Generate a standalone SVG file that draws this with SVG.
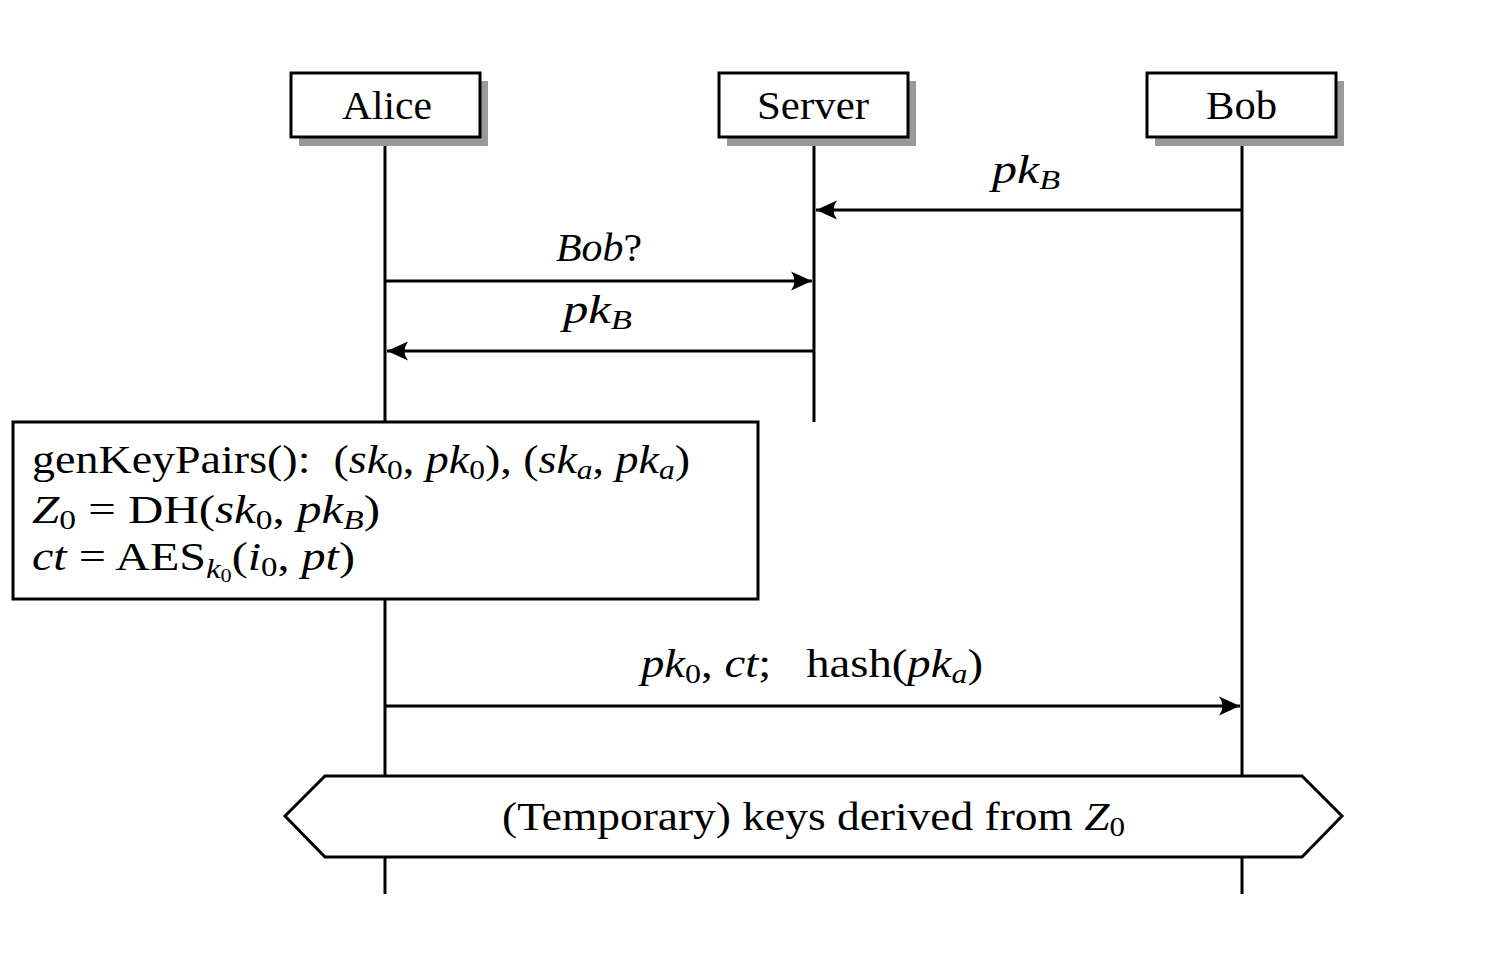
<svg xmlns="http://www.w3.org/2000/svg" width="1490" height="954" viewBox="0 0 1490 954">
<style>
text{font-family:"Liberation Serif","DejaVu Serif",serif;font-size:41px;fill:#000}
.i{font-style:italic}
.s{font-size:28px}
.box{fill:#fff;stroke:#000;stroke-width:3}
.sh{fill:#999}
.ll{stroke:#000;stroke-width:3;fill:none}
.msg{stroke:#000;stroke-width:3;fill:none;marker-end:url(#ah)}
</style>
<defs>
<marker id="ah" markerUnits="userSpaceOnUse" markerWidth="26" markerHeight="24" viewBox="-22 -12 26 24" refX="0" refY="0" orient="auto">
<path d="M0,0 L-21,-9.5 Q-14,0 -21,9.5 Z" fill="#000"/>
</marker>
</defs>
<rect width="1490" height="954" fill="#fff"/>
<g id="lifelines">
<line class="ll" x1="385" y1="137" x2="385" y2="894"/>
<line class="ll" x1="814" y1="137" x2="814" y2="422"/>
<line class="ll" x1="1242" y1="137" x2="1242" y2="894"/>
</g>
<g id="alice">
<rect class="sh" x="299" y="81" width="189" height="65"/>
<rect class="box" x="291" y="73" width="189" height="64"/>
<text x="387" y="119" text-anchor="middle" textLength="90" lengthAdjust="spacingAndGlyphs">Alice</text>
</g>
<g id="server">
<rect class="sh" x="727" y="81" width="189" height="65"/>
<rect class="box" x="719" y="73" width="189" height="64"/>
<text x="813" y="119" text-anchor="middle" textLength="112" lengthAdjust="spacingAndGlyphs">Server</text>
</g>
<g id="bob">
<rect class="sh" x="1155" y="81" width="189" height="65"/>
<rect class="box" x="1147" y="73" width="189" height="64"/>
<text x="1241.5" y="119" text-anchor="middle" textLength="71" lengthAdjust="spacingAndGlyphs">Bob</text>
</g>
<g id="connectors">
<line class="msg" x1="1242" y1="210" x2="816" y2="210"/>
<line class="msg" x1="385" y1="281" x2="812" y2="281"/>
<line class="msg" x1="814" y1="351" x2="387" y2="351"/>
<line class="msg" x1="385" y1="706" x2="1240" y2="706"/>
<text x="1026" y="183" text-anchor="middle" textLength="68" lengthAdjust="spacingAndGlyphs"><tspan class="i">pk</tspan><tspan class="i s" dy="6">B</tspan></text>
<text x="599" y="261" text-anchor="middle" class="i" textLength="86" lengthAdjust="spacingAndGlyphs">Bob<tspan font-style="normal">?</tspan></text>
<text x="597.5" y="323" text-anchor="middle" textLength="69" lengthAdjust="spacingAndGlyphs"><tspan class="i">pk</tspan><tspan class="i s" dy="6">B</tspan></text>
<text x="812" y="677" text-anchor="middle" textLength="342" lengthAdjust="spacingAndGlyphs"><tspan class="i">pk</tspan><tspan class="s" dy="6">0</tspan><tspan dy="-6">, </tspan><tspan class="i">ct</tspan>;&#160;&#160;&#160;hash(<tspan class="i">pk</tspan><tspan class="i s" dy="6">a</tspan><tspan dy="-6">)</tspan></text>
</g>
<g id="computation">
<rect class="box" x="13" y="422" width="745" height="177"/>
<text x="32" y="473" textLength="658" lengthAdjust="spacingAndGlyphs">genKeyPairs():&#160; (<tspan class="i">sk</tspan><tspan class="s" dy="6">0</tspan><tspan dy="-6">, </tspan><tspan class="i">pk</tspan><tspan class="s" dy="6">0</tspan><tspan dy="-6">), (</tspan><tspan class="i">sk</tspan><tspan class="i s" dy="6">a</tspan><tspan dy="-6">, </tspan><tspan class="i">pk</tspan><tspan class="i s" dy="6">a</tspan><tspan dy="-6">)</tspan></text>
<text x="32" y="523" textLength="348" lengthAdjust="spacingAndGlyphs"><tspan class="i">Z</tspan><tspan class="s" dy="6">0</tspan><tspan dy="-6"> = DH(</tspan><tspan class="i">sk</tspan><tspan class="s" dy="6">0</tspan><tspan dy="-6">, </tspan><tspan class="i">pk</tspan><tspan class="i s" dy="6">B</tspan><tspan dy="-6">)</tspan></text>
<text x="32" y="570" textLength="323" lengthAdjust="spacingAndGlyphs"><tspan class="i">ct</tspan> = AES<tspan class="i s" dy="8">k</tspan><tspan style="font-size:19px" dy="4">0</tspan><tspan dy="-12">(</tspan><tspan class="i">i</tspan><tspan class="s" dy="6">0</tspan><tspan dy="-6">, </tspan><tspan class="i">pt</tspan>)</text>
</g>
<g id="derived">
<polygon class="box" points="285,816 325,776 1302,776 1342,816 1302,857 325,857"/>
<text x="813.5" y="830" text-anchor="middle" textLength="623" lengthAdjust="spacingAndGlyphs">(Temporary) keys derived from <tspan class="i">Z</tspan><tspan class="s" dy="6">0</tspan></text>
</g>
</svg>
